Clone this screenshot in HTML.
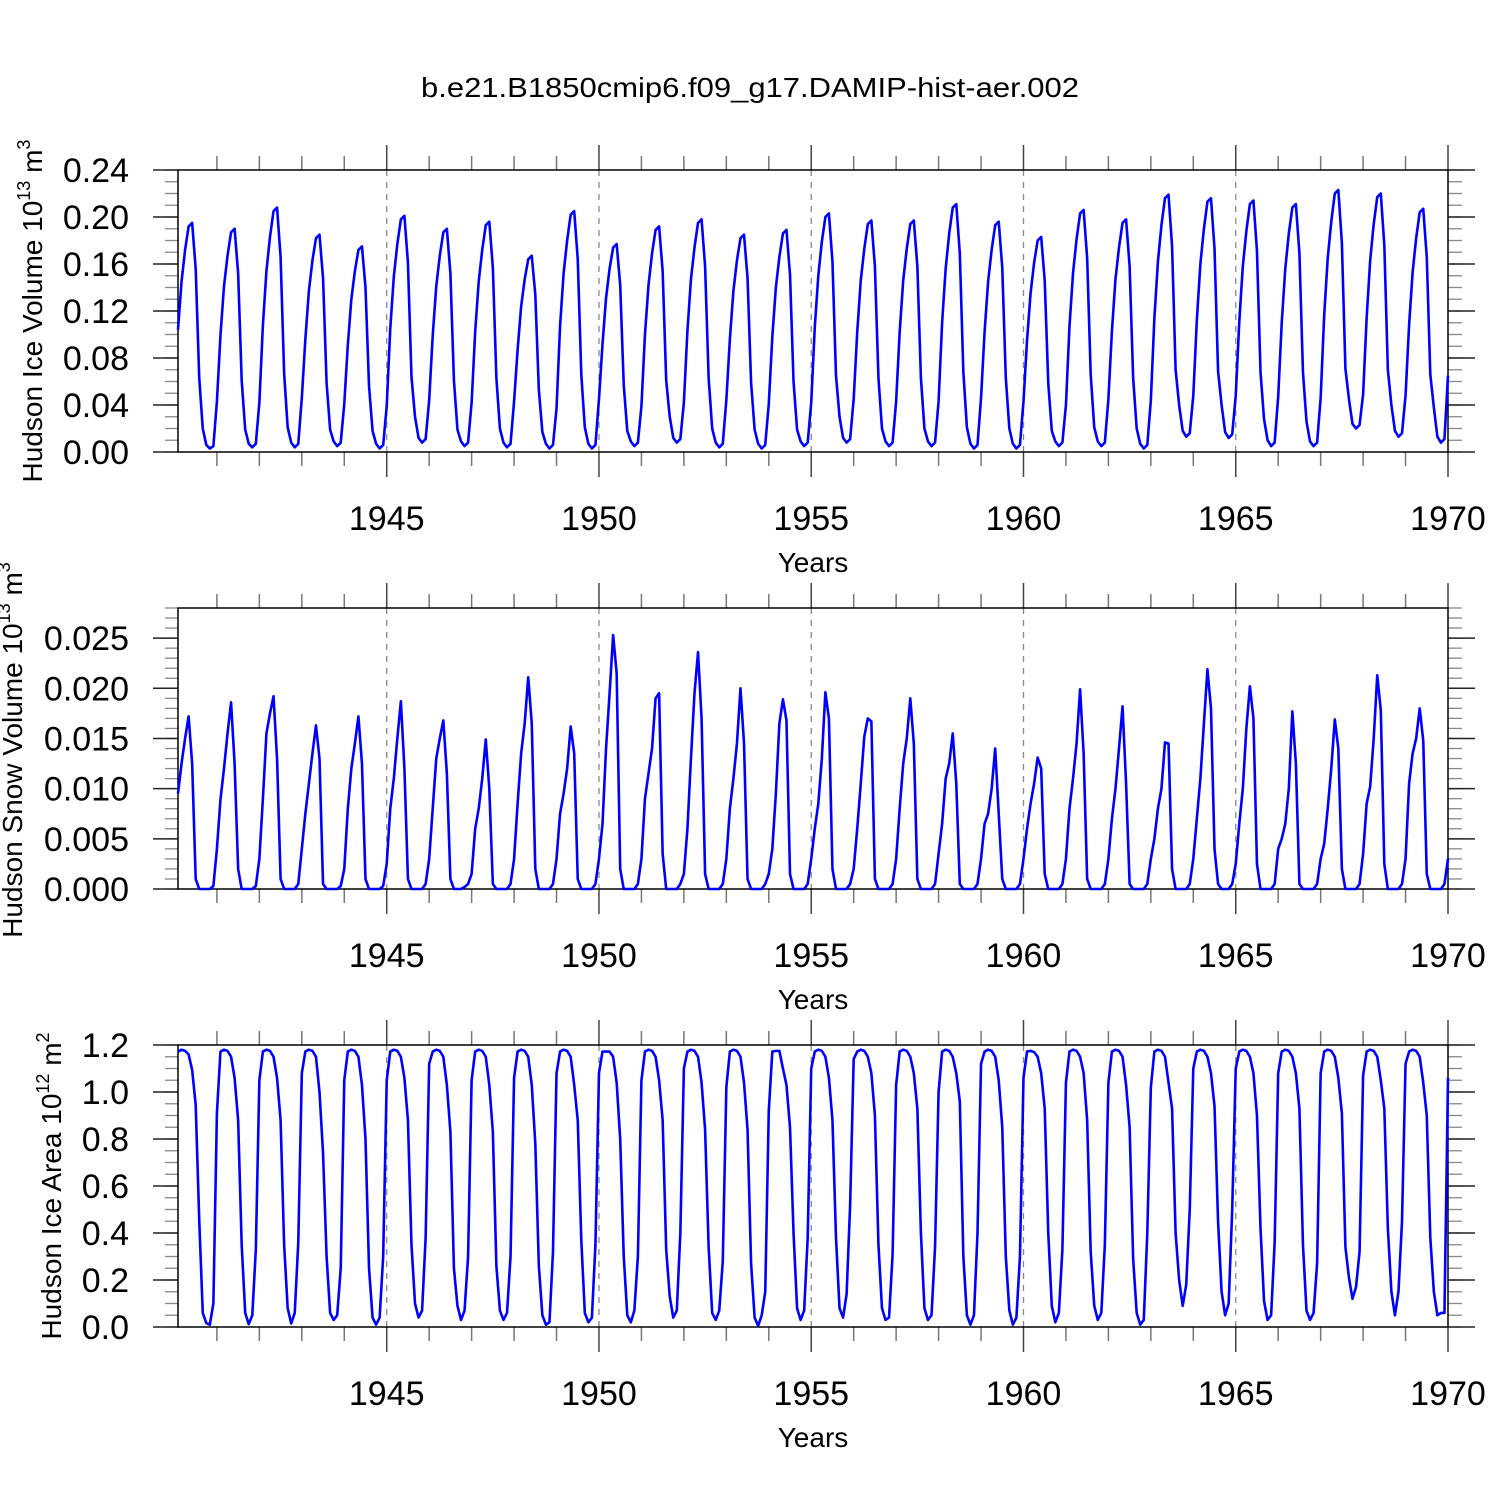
<!DOCTYPE html>
<html><head><meta charset="utf-8"><style>
html,body{margin:0;padding:0;background:#fff;}
svg{display:block;font-family:"Liberation Sans",sans-serif;}
</style></head><body>
<svg id="chart" width="1500" height="1500" viewBox="0 0 1500 1500" xmlns="http://www.w3.org/2000/svg">
<rect width="1500" height="1500" fill="#fff"/>
<text x="750" y="97" text-anchor="middle" font-size="28" textLength="658" lengthAdjust="spacingAndGlyphs">b.e21.B1850cmip6.f09_g17.DAMIP-hist-aer.002</text>
</svg>
<script>
const startYear = 1940;
const majorYears = [1945, 1950, 1955, 1960, 1965, 1970];
const iceVolTicks = ["0.00","0.04","0.08","0.12","0.16","0.20","0.24"];
const snowVolTicks = ["0.000","0.005","0.010","0.015","0.020","0.025"];
const iceAreaTicks = ["0.0","0.2","0.4","0.6","0.8","1.0","1.2"];

const iceVolume = [
.104,.145,.172,.192,.195,.156,.063,.020,.006,.003,.005,.043,
.099,.141,.167,.187,.190,.152,.061,.019,.007,.004,.007,.042,
.108,.154,.183,.205,.208,.166,.067,.021,.008,.004,.007,.046,
.096,.137,.163,.182,.185,.148,.059,.019,.009,.005,.008,.041,
.091,.130,.154,.172,.175,.140,.056,.018,.007,.003,.006,.039,
.105,.149,.177,.198,.201,.161,.064,.030,.012,.008,.011,.044,
.099,.141,.167,.187,.190,.152,.061,.019,.009,.005,.008,.042,
.102,.145,.172,.193,.196,.157,.063,.020,.008,.004,.007,.043,
.087,.124,.147,.164,.167,.134,.053,.017,.007,.003,.006,.037,
.107,.152,.180,.202,.205,.164,.066,.021,.007,.003,.006,.045,
.092,.131,.156,.174,.177,.142,.057,.018,.009,.005,.008,.039,
.100,.142,.169,.189,.192,.154,.061,.030,.012,.008,.011,.042,
.103,.147,.174,.195,.198,.158,.063,.020,.008,.004,.007,.044,
.096,.137,.163,.182,.185,.148,.059,.019,.007,.003,.006,.041,
.098,.140,.166,.186,.189,.151,.060,.019,.009,.005,.008,.042,
.106,.150,.179,.200,.203,.162,.065,.030,.012,.008,.011,.045,
.102,.146,.173,.194,.197,.158,.063,.020,.009,.005,.008,.043,
.102,.146,.173,.194,.197,.158,.063,.020,.009,.005,.008,.043,
.110,.156,.186,.208,.211,.169,.068,.021,.007,.003,.006,.046,
.102,.145,.172,.193,.196,.157,.063,.020,.007,.003,.006,.043,
.095,.135,.161,.180,.183,.146,.059,.018,.009,.005,.008,.040,
.107,.152,.181,.203,.206,.165,.066,.021,.009,.005,.008,.045,
.103,.147,.174,.195,.198,.158,.063,.020,.007,.003,.006,.044,
.114,.162,.193,.216,.219,.175,.070,.040,.018,.013,.016,.048,
.112,.160,.190,.213,.216,.173,.069,.040,.017,.012,.015,.048,
.111,.158,.188,.211,.214,.171,.068,.028,.010,.005,.008,.047,
.110,.156,.186,.208,.211,.169,.068,.026,.009,.005,.008,.046,
.116,.165,.196,.220,.223,.178,.071,.045,.024,.020,.023,.049,
.114,.163,.194,.217,.220,.176,.070,.040,.018,.013,.016,.048,
.108,.153,.182,.204,.207,.166,.066,.038,.013,.008,.011,.065
];

const snowVolume = [
.0095,.0125,.0150,.0172,.0125,.0010,0,0,0,0,.0003,.0040,
.0089,.0120,.0155,.0186,.0125,.0020,0,0,0,0,.0003,.0030,
.0090,.0155,.0175,.0192,.0130,.0010,0,0,0,0,.0005,.0040,
.0075,.0105,.0135,.0163,.0130,.0005,0,0,0,0,.0003,.0020,
.0080,.0120,.0145,.0172,.0125,.0010,0,0,0,0,.0003,.0025,
.0080,.0110,.0150,.0187,.0120,.0010,0,0,0,0,.0005,.0030,
.0080,.0130,.0150,.0168,.0115,.0010,0,0,0,.0002,.0005,.0015,
.0060,.0080,.0110,.0149,.0100,.0005,0,0,0,0,.0005,.0030,
.0085,.0135,.0165,.0211,.0165,.0020,0,0,0,0,.0005,.0030,
.0075,.0095,.0120,.0162,.0135,.0010,0,0,0,0,.0005,.0030,
.0065,.0140,.0195,.0253,.0215,.0020,0,0,0,0,.0005,.0030,
.0090,.0115,.0140,.0190,.0195,.0035,0,0,0,0,.0005,.0015,
.0060,.0130,.0195,.0236,.0170,.0015,0,0,0,0,.0005,.0030,
.0080,.0110,.0145,.0200,.0145,.0010,0,0,0,0,.0005,.0015,
.0040,.0095,.0165,.0189,.0168,.0015,0,0,0,0,.0005,.0030,
.0060,.0085,.0130,.0196,.0170,.0020,0,0,0,0,.0005,.0020,
.0060,.0105,.0152,.0170,.0167,.0010,0,0,0,0,.0005,.0030,
.0080,.0125,.0150,.0190,.0145,.0010,0,0,0,0,.0005,.0035,
.0065,.0110,.0125,.0155,.0105,.0005,0,0,0,0,.0005,.0030,
.0065,.0075,.0100,.0140,.0075,.0010,0,0,0,0,.0005,.0030,
.0060,.0085,.0105,.0131,.0120,.0015,0,0,0,0,.0005,.0030,
.0080,.0110,.0145,.0199,.0135,.0010,0,0,0,0,.0005,.0030,
.0070,.0100,.0140,.0182,.0105,.0005,0,0,0,0,.0005,.0030,
.0050,.0080,.0100,.0146,.0145,.0020,0,0,0,0,.0005,.0030,
.0070,.0110,.0165,.0219,.0180,.0040,.0005,0,0,0,.0005,.0025,
.0065,.0100,.0160,.0202,.0170,.0025,0,0,0,0,.0005,.0040,
.0050,.0065,.0100,.0177,.0125,.0005,0,0,0,0,.0005,.0030,
.0045,.0080,.0120,.0169,.0140,.0020,0,0,0,0,.0005,.0035,
.0085,.0102,.0150,.0213,.0178,.0025,0,0,0,0,.0005,.0030,
.0105,.0135,.0150,.0180,.0148,.0015,0,0,0,0,.0005,.0030
];

const iceArea = [
1.172,1.180,1.175,1.160,1.094,0.945,0.455,0.060,0.017,0.010,0.100,0.910,
1.172,1.180,1.175,1.150,1.060,0.880,0.350,0.060,0.012,0.050,0.330,1.050,
1.172,1.180,1.175,1.150,1.060,0.880,0.350,0.080,0.015,0.060,0.360,1.080,
1.172,1.180,1.175,1.150,1.000,0.740,0.300,0.060,0.030,0.050,0.250,1.050,
1.172,1.180,1.175,1.150,1.030,0.800,0.250,0.040,0.010,0.040,0.300,1.050,
1.172,1.180,1.175,1.150,1.060,0.880,0.350,0.100,0.040,0.070,0.380,1.120,
1.172,1.180,1.175,1.150,1.030,0.830,0.250,0.090,0.030,0.070,0.300,1.050,
1.172,1.180,1.175,1.150,1.030,0.830,0.260,0.070,0.030,0.060,0.300,1.060,
1.172,1.180,1.175,1.150,1.030,0.780,0.260,0.050,0.010,0.020,0.320,1.080,
1.172,1.180,1.175,1.150,1.030,0.880,0.370,0.060,0.020,0.040,0.350,1.080,
1.172,1.172,1.172,1.150,1.040,0.800,0.300,0.050,0.020,0.070,0.300,1.050,
1.172,1.180,1.175,1.150,1.050,0.880,0.330,0.130,0.040,0.070,0.400,1.100,
1.172,1.180,1.175,1.150,1.040,0.840,0.340,0.060,0.030,0.070,0.280,1.020,
1.172,1.180,1.175,1.150,1.040,0.840,0.270,0.040,0.005,0.050,0.150,0.920,
1.172,1.175,1.175,1.100,1.030,0.850,0.400,0.080,0.030,0.070,0.380,1.100,
1.172,1.180,1.175,1.150,1.060,0.880,0.380,0.080,0.040,0.140,0.520,1.140,
1.172,1.180,1.175,1.150,1.080,0.900,0.350,0.080,0.030,0.040,0.310,1.030,
1.172,1.180,1.175,1.150,1.080,0.930,0.400,0.080,0.030,0.050,0.340,1.000,
1.172,1.180,1.175,1.150,1.080,0.960,0.300,0.050,0.010,0.050,0.400,1.120,
1.172,1.180,1.175,1.150,1.050,0.850,0.300,0.070,0.010,0.040,0.300,1.060,
1.172,1.175,1.170,1.150,1.080,0.930,0.400,0.090,0.020,0.060,0.330,1.040,
1.172,1.180,1.175,1.150,1.080,0.880,0.320,0.090,0.030,0.060,0.350,1.040,
1.172,1.180,1.175,1.150,1.030,0.850,0.290,0.060,0.010,0.030,0.400,1.020,
1.172,1.180,1.175,1.150,1.040,0.930,0.400,0.200,0.090,0.180,0.500,1.100,
1.172,1.180,1.175,1.150,1.080,0.940,0.450,0.150,0.050,0.100,0.500,1.100,
1.172,1.180,1.175,1.150,1.080,0.900,0.420,0.110,0.030,0.050,0.360,1.080,
1.172,1.180,1.175,1.150,1.080,0.930,0.350,0.070,0.030,0.060,0.270,1.080,
1.172,1.180,1.175,1.150,1.060,0.910,0.340,0.210,0.120,0.170,0.320,1.070,
1.172,1.180,1.175,1.150,1.050,0.930,0.420,0.150,0.050,0.150,0.450,1.120,
1.172,1.180,1.175,1.150,1.040,0.900,0.380,0.150,0.050,0.060,0.060,1.060
];

const NS = "http://www.w3.org/2000/svg";
const svg = document.getElementById("chart");
const X0 = 178, X1 = 1448;
const XMIN = startYear + 1/12, XMAX = 1970;
function xs(v){ return X0 + (v - XMIN) / (XMAX - XMIN) * (X1 - X0); }
function mk(tag, attrs, parent){
  const e = document.createElementNS(NS, tag);
  for (const k in attrs) e.setAttribute(k, attrs[k]);
  (parent || svg).appendChild(e);
  return e;
}

const panels = [
  {key:"ice-volume", top:170, bot:452, ymax:0.24, data:iceVolume, ticks:iceVolTicks, major:0.04, minor:0.01,
   title:"Hudson Ice Volume 10", exp1:"13", unit:" m", exp2:"3", tx:42, ty:311},
  {key:"snow-volume", top:608, bot:889, ymax:0.028, data:snowVolume, ticks:snowVolTicks, major:0.005, minor:0.001,
   title:"Hudson Snow Volume 10", exp1:"13", unit:" m", exp2:"3", tx:22, ty:750},
  {key:"ice-area", top:1045, bot:1327, ymax:1.2, data:iceArea, ticks:iceAreaTicks, major:0.2, minor:0.05,
   title:"Hudson Ice Area 10", exp1:"12", unit:" m", exp2:"2", tx:61, ty:1186}
];

panels.forEach(p => {
  const g = mk("g", {});
  
  
  const ys = v => p.bot - v / p.ymax * (p.bot - p.top);
  // dashed year grid
  majorYears.forEach(yr => {
    if (yr >= XMAX) return;
    const l = mk("line", {x1:xs(yr), x2:xs(yr), y1:p.top, y2:p.bot, stroke:"#888", "stroke-width":1.3, "stroke-dasharray":"6,6"}, g);
    
    
  });
  // x ticks
  for (let yr = startYear + 1; yr <= 1970; yr++) {
    const isMaj = majorYears.includes(yr);
    const len = isMaj ? 25 : 14;
    const col = isMaj ? "#444" : "#777";
    mk("line", {x1:xs(yr), x2:xs(yr), y1:p.top - len, y2:p.top, stroke:col, "stroke-width":1.5}, g);
    mk("line", {x1:xs(yr), x2:xs(yr), y1:p.bot, y2:p.bot + len, stroke:col, "stroke-width":1.5}, g);
  }
  majorYears.forEach(yr => {
    const t = mk("text", {x:xs(yr), y:p.bot + 78, "text-anchor":"middle", "font-size":34}, g);
    t.textContent = yr;
    
    
  });
  const xt = mk("text", {x:813, y:p.bot + 120, "text-anchor":"middle", "font-size":28}, g);
  xt.textContent = "Years";
  
  
  // y minor ticks
  const nMinor = Math.round(p.ymax / p.minor);
  for (let i = 0; i <= nMinor; i++) {
    const y = ys(i * p.minor);
    mk("line", {x1:X0 - 13, x2:X0, y1:y, y2:y, stroke:"#888", "stroke-width":1.3}, g);
    mk("line", {x1:X1, x2:X1 + 14, y1:y, y2:y, stroke:"#888", "stroke-width":1.3}, g);
  }
  p.ticks.forEach((lab, i) => {
    const y = ys(i * p.major);
    mk("line", {x1:X0 - 25, x2:X0, y1:y, y2:y, stroke:"#222", "stroke-width":1.5}, g);
    mk("line", {x1:X1, x2:X1 + 27, y1:y, y2:y, stroke:"#222", "stroke-width":1.5}, g);
    const t = mk("text", {x:129, y:y + 12, "text-anchor":"end", "font-size":34}, g);
    t.textContent = lab;
    
    
  });
  // frame
  const fr = mk("rect", {x:X0, y:p.top, width:X1 - X0, height:p.bot - p.top, fill:"none", stroke:"#000", "stroke-width":1.5}, g);
  
  
  // y title
  const tt = mk("text", {transform:"translate(" + p.tx + "," + p.ty + ") rotate(-90)", "text-anchor":"middle", "font-size":28}, g);
  
  
  const s1 = mk("tspan", {}, tt); s1.textContent = p.title;
  const s2 = mk("tspan", {dy:-12, "font-size":18}, tt); s2.textContent = p.exp1;
  const s3 = mk("tspan", {dy:12}, tt); s3.textContent = p.unit;
  const s4 = mk("tspan", {dy:-12, "font-size":18}, tt); s4.textContent = p.exp2;
  // series
  const pts = p.data.map((v, i) => xs(startYear + (i + 1) / 12).toFixed(2) + "," + ys(v).toFixed(2)).join(" ");
  const line = mk("polyline", {points:pts, fill:"none", stroke:"#0000ff", "stroke-width":2.6, "stroke-linejoin":"round"}, g);
  
  
});
</script>
</body></html>
